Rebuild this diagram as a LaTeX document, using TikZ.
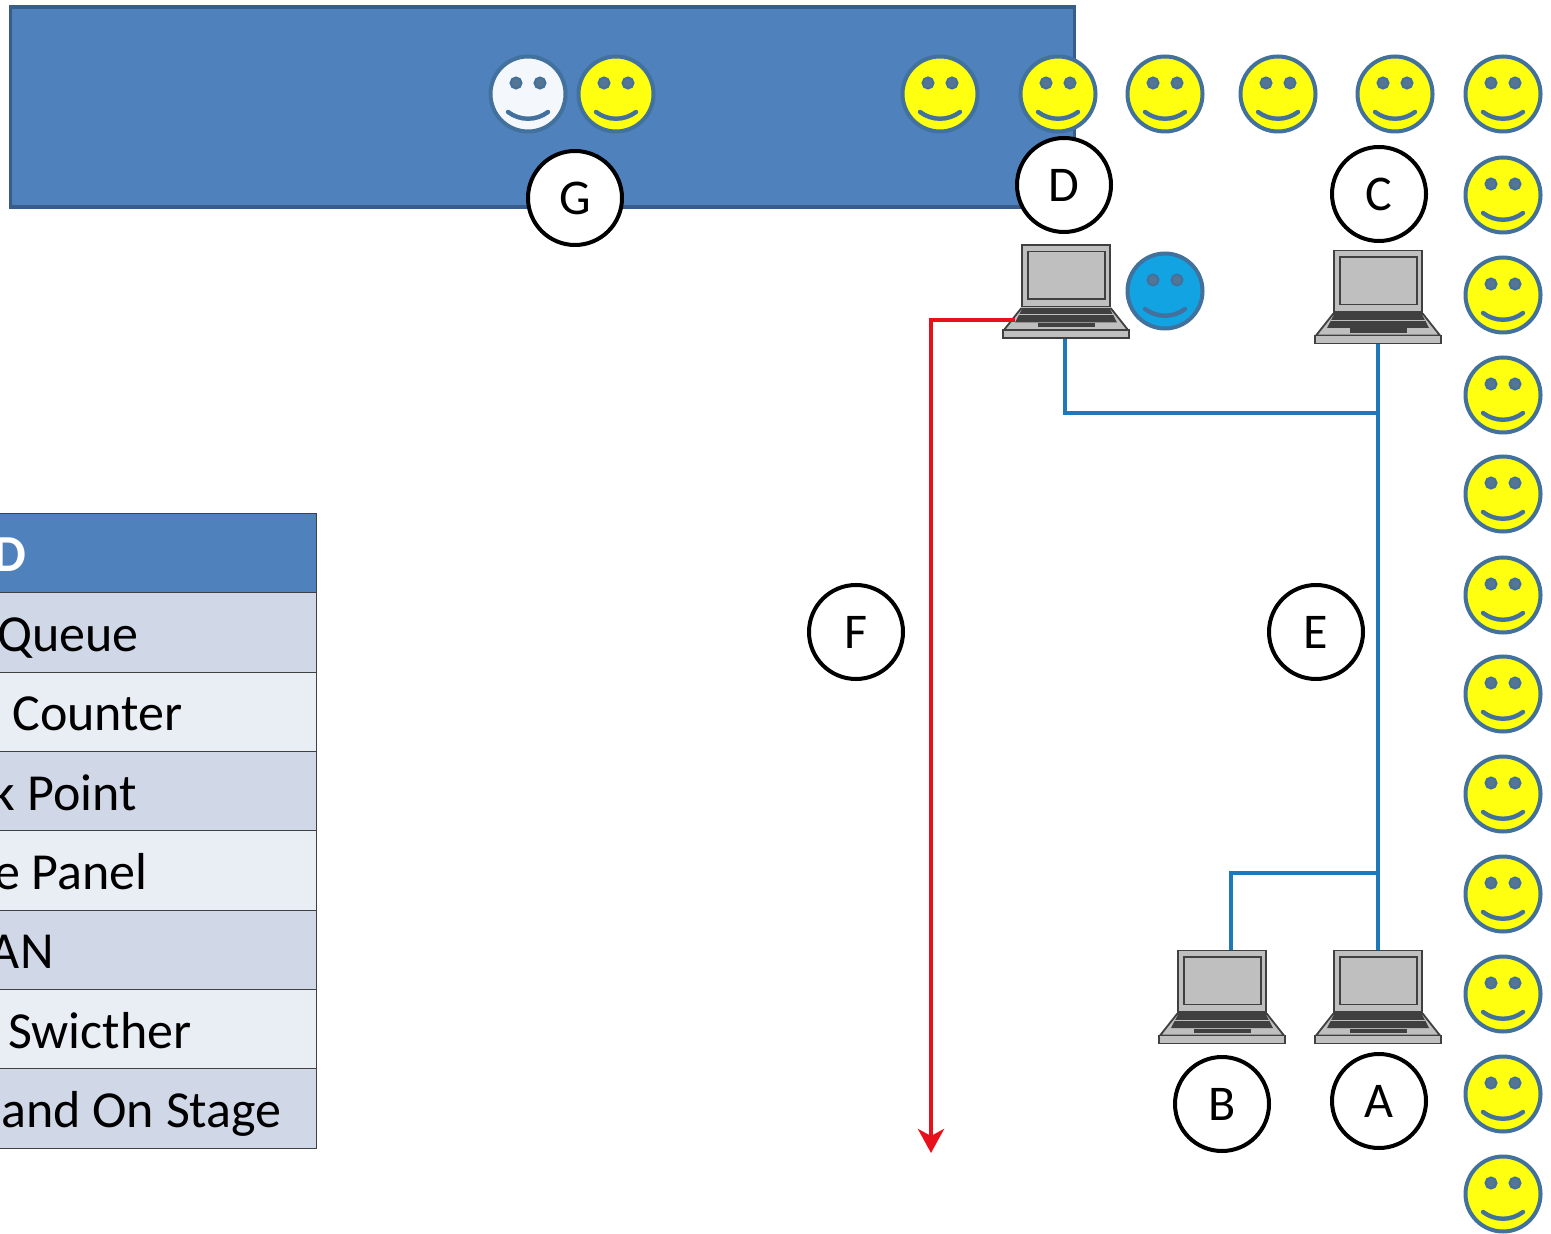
\documentclass[tikz,border=0pt]{standalone}
\usepackage{fontspec}
\setmainfont{Carlito}
\usetikzlibrary{arrows.meta,calc}
\definecolor{hdr}{HTML}{4F81BD}
\definecolor{hdrline}{HTML}{385D8A}
\definecolor{rowa}{HTML}{D0D8E8}
\definecolor{rowb}{HTML}{E9EDF4}
\definecolor{smileline}{HTML}{41719C}
\definecolor{smileyellow}{HTML}{FFFF10}
\definecolor{smileblue}{HTML}{12A3E3}
\definecolor{smilewhite}{HTML}{F4F7FB}
\definecolor{bluewire}{HTML}{1F78B8}
\definecolor{redwire}{HTML}{E8101A}
\definecolor{lapgray}{HTML}{BFBFBF}
\definecolor{lapdark}{HTML}{404040}
\tikzset{
  face/.style={circle,draw=smileline,line width=2pt,minimum size=37.5pt,inner sep=0pt},
  eye/.style={draw=smileline,fill=smileline!70!gray,line width=1pt},
  mouth/.style={draw=smileline,line width=2.2pt,line cap=round},
  tag/.style={circle,draw=black,fill=white,line width=2pt,minimum size=47pt,inner sep=0pt,font=\fontsize{25}{25}\selectfont},
  lapbox/.style={minimum width=63pt,minimum height=47pt,inner sep=0pt},
  lappart/.style={draw=lapdark,line width=0.9pt,fill=lapgray},
  cell/.style={draw=lapdark,line width=0.5pt},
  celltext/.style={anchor=base east,inner sep=0pt,font=\fontsize{26}{26}\selectfont},
  bluepath/.style={draw=bluewire,line width=2.1pt},
  redpath/.style={draw=redwire,line width=2.4pt},
}
\newcommand{\smileyface}[4]{%
  \node[face,fill=#4] (#1) at (#2,#3) {};
  \begin{scope}[shift={(#2,#3)}]
    \draw[eye] (-12,-11) circle[radius=5.5];
    \draw[eye] (12,-11) circle[radius=5.5];
    \draw[mouth] (-20,18) .. controls (-8,27) and (8,27) .. (20,18);
  \end{scope}}
\newcommand{\laptop}[3]{%
  \node[lapbox] (#1) at (#2,#3) {};
  \begin{scope}[shift={(#2,#3)}]
    \draw[lappart] (-44,-46.5) rectangle (44,15);
    \draw[lappart] (-38,-40) rectangle (39,7.5);
    \draw[lappart] (-45,17) -- (45,17) -- (62,38.5) -- (-62,38.5) -- cycle;
    \fill[lapdark] (-44,17.5) -- (44,17.5) -- (51,31) -- (-51,31) -- cycle;
    \draw[lapgray,line width=0.5pt] (-47,23.5) -- (47,23.5);
    \fill[lapdark] (-28,31.5) rectangle (29,36);
    \draw[lappart] (-63,38.5) rectangle (63,46.5);
  \end{scope}}
\begin{document}
\begin{tikzpicture}[x=0.5pt,y=-0.5pt]
\useasboundingbox (0,0) rectangle (1551,1234);
\fill[white] (0,0) rectangle (1551,1234);

% banner
\node[draw=hdrline,fill=hdr,line width=1.7pt,minimum width=532pt,minimum height=100pt,inner sep=0pt] (banner) at (542.5,107) {};

% table
\path[cell,fill=hdr] (-5,514) rectangle (316,593);
\path[cell,fill=rowa] (-5,593) rectangle (316,672);
\path[cell,fill=rowb] (-5,672) rectangle (316,751);
\path[cell,fill=rowa] (-5,751) rectangle (316,830);
\path[cell,fill=rowb] (-5,830) rectangle (316,910);
\path[cell,fill=rowa] (-5,910) rectangle (316,989);
\path[cell,fill=rowb] (-5,989) rectangle (316,1068);
\path[cell,fill=rowa] (-5,1068) rectangle (316,1148);
\node[celltext,text=white,font=\fontsize{26}{26}\selectfont\bfseries] (t0) at (27,572) {D};
\node[celltext] (t1) at (139,651) {Queue};
\node[celltext] (t2) at (183,730) {Counter};
\node[celltext] (t3) at (137,810) {k Point};
\node[celltext] (t4) at (148,889) {e Panel};
\node[celltext] (t5) at (54,968) {AN};
\node[celltext] (t6) at (192,1048) {Swicther};
\node[celltext] (t7) at (282,1127) {and On Stage};

% wires
\coordinate (jtop) at (1378,413);
\coordinate (jbot) at (1378,873);
\coordinate (bendD) at (1065,413);
\coordinate (bendB) at (1231,873);
\coordinate (redbend) at (931,320);
\coordinate (redend) at (931,1153);

% laptops
\laptop{lapD}{1066}{291.5}
\laptop{lapC}{1378}{297}
\laptop{lapA}{1378}{997}
\laptop{lapB}{1222}{997}

\draw[bluepath] (lapC.south) -- (lapA.north);
\draw[bluepath] (jtop) -- (bendD) -- (lapD.south -| bendD);
\draw[bluepath] (jbot) -- (bendB) -- (lapB.north -| bendB);
\draw[redpath,-{Stealth[length=12pt,width=13pt,inset=3.5pt]}] ([xshift=6pt,yshift=-14.25pt]lapD.west) -- (redbend) -- (redend);

% smileys
\smileyface{s1}{528}{94}{smilewhite}
\smileyface{s2}{616}{94}{smileyellow}
\smileyface{s3}{940}{94}{smileyellow}
\smileyface{s4}{1058}{94}{smileyellow}
\smileyface{s5}{1165}{94}{smileyellow}
\smileyface{s6}{1278}{94}{smileyellow}
\smileyface{s7}{1395}{94}{smileyellow}
\smileyface{s8}{1503}{94}{smileyellow}
\smileyface{s9}{1503}{195}{smileyellow}
\smileyface{s10}{1503}{295}{smileyellow}
\smileyface{s11}{1503}{395}{smileyellow}
\smileyface{s12}{1503}{494}{smileyellow}
\smileyface{s13}{1503}{595}{smileyellow}
\smileyface{s14}{1503}{694}{smileyellow}
\smileyface{s15}{1503}{794}{smileyellow}
\smileyface{s16}{1503}{894}{smileyellow}
\smileyface{s17}{1503}{994}{smileyellow}
\smileyface{s18}{1503}{1094}{smileyellow}
\smileyface{s19}{1503}{1194}{smileyellow}
\smileyface{s20}{1165}{291}{smileblue}

% tags
\node[tag] (tagG) at (575,198) {G};
\node[tag] (tagD) at (1064,185) {D};
\node[tag] (tagC) at (1379,194) {C};
\node[tag] (tagF) at (856,632) {F};
\node[tag] (tagE) at (1316,632) {E};
\node[tag] (tagB) at (1222,1104) {B};
\node[tag] (tagA) at (1379,1101) {A};
\end{tikzpicture}
\end{document}
